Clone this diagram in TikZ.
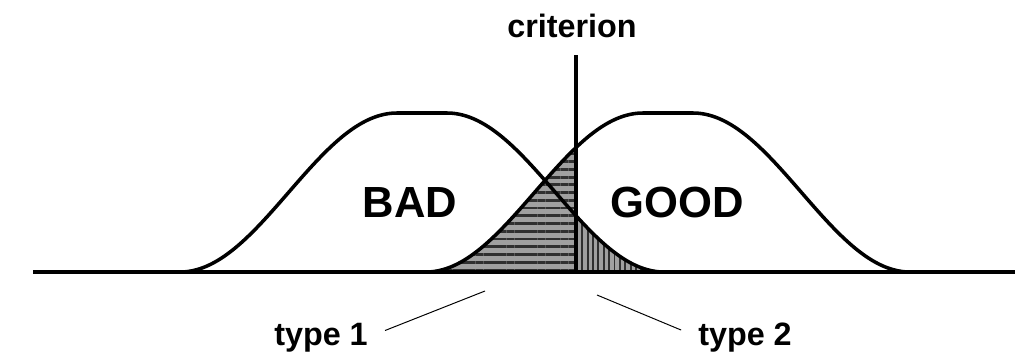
\documentclass[tikz,border=0pt]{standalone}
\usepackage{fontspec}
\setmainfont{Liberation Sans}
\usetikzlibrary{patterns.meta}
\definecolor{stripeDark}{HTML}{303030}
\definecolor{stripeLight}{HTML}{A0A0A0}

\begin{document}
\begin{tikzpicture}[x=0.025cm,y=-0.025cm,
    declare function={bell(\x,\c)=272-79.5*(1+cos(0.8295*max(abs(\x-\c)-25,0)));},
    curve/.style={line width=2.5pt,line join=round},
    axis/.style={line width=3.2pt},
    label/.style={font=\fontsize{23}{23}\selectfont\bfseries,inner sep=0pt,anchor=base},
    group/.style={font=\fontsize{31}{31}\selectfont\bfseries,inner sep=0pt,anchor=base},
    pointer/.style={line width=0.7pt,shorten <=13pt},
    bump/.style={samples=200}]
  \useasboundingbox (0,0) rectangle (1015,355);
  % the two error areas
  \fill[stripeLight] (426,272)
    -- plot[bump,domain=426:576] (\x,{bell(\x,668)})
    -- (576,272) -- cycle;
  \fill[pattern={Lines[angle=0,distance=5.5pt,line width=2pt]},pattern color=stripeDark] (426,272)
    -- plot[bump,domain=426:576] (\x,{bell(\x,668)})
    -- (576,272) -- cycle;
  \fill[stripeLight] (576,272)
    -- plot[bump,domain=576:664] (\x,{bell(\x,422)})
    -- cycle;
  \fill[pattern={Lines[angle=90,distance=3.8pt,line width=1.4pt]},pattern color=stripeDark] (576,272)
    -- plot[bump,domain=576:664] (\x,{bell(\x,422)})
    -- cycle;
  % distributions
  \draw[curve] plot[bump,domain=178:666] (\x,{bell(\x,422)});
  \draw[curve] plot[bump,domain=424:912] (\x,{bell(\x,668)});
  % criterion and axis
  \coordinate (critTop) at (576,55);
  \coordinate (critFoot) at (576,272);
  \coordinate (axisLeft) at (33,272);
  \coordinate (axisRight) at (1015,272);
  \draw[line width=2.4pt] (critFoot) -- (critTop);
  \draw[axis] (axisLeft) -- (axisRight);
  % texts
  \node[label] (crit) at (572,37) {criterion};
  \node[group] (bad) at (410,217) {BAD};
  \node[group] (good) at (677,217) {GOOD};
  \node[label] (type1) at (321,345) {type 1};
  \node[label] (type2) at (745,345) {type 2};
  \coordinate (type1tip) at (485,291);
  \coordinate (type2tip) at (597,295);
  \draw[pointer] (type1.east) -- (type1tip);
  \draw[pointer] (type2.west) -- (type2tip);
\end{tikzpicture}
\end{document}
